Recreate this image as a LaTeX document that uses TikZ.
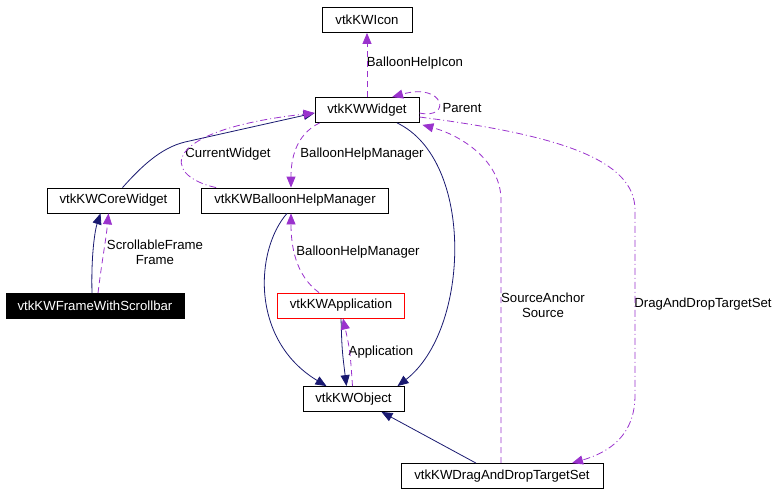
\documentclass[tikz,border=0pt]{standalone}
\usepackage{fontspec}
\setmainfont{Liberation Sans}
\usetikzlibrary{arrows.meta,calc}
\definecolor{navyedge}{HTML}{191970}
\definecolor{usecol}{HTML}{9A32CD}
\tikzset{
  cls/.style={draw=black, line width=0.8pt, minimum height=25pt, inner sep=0pt, font=\fontsize{13.2}{15}\selectfont, anchor=center},
  lbl/.style={inner sep=0pt, font=\fontsize{13.2}{15}\selectfont, align=center},
  inherit/.style={draw=navyedge, line width=0.8pt, -{Triangle[length=11pt,width=9pt]}},
  uses/.style={draw=usecol, line width=0.8pt, dash pattern=on 6pt off 4pt, -{Triangle[length=11pt,width=9pt]}},
  usesdd/.style={draw=usecol, line width=0.8pt, dash pattern=on 7pt off 3pt on 1pt off 3pt, -{Triangle[length=11pt,width=9pt]}},
}
\begin{document}
\begin{tikzpicture}[x=1pt,y=-1pt]
\useasboundingbox (0,0) rectangle (780,493);
% nodes
\node[cls, minimum width=90pt] (icon) at (367,20) {vtkKWIcon};
\node[cls, minimum width=104pt] (w) at (367,110) {vtkKWWidget};
\node[cls, minimum width=132pt] (core) at (113.5,200.5) {vtkKWCoreWidget};
\node[cls, minimum width=187pt] (bhm) at (295,200.5) {vtkKWBalloonHelpManager};
\node[cls, minimum width=178pt, fill=black, text=white] (frame) at (95,306) {vtkKWFrameWithScrollbar};
\node[cls, minimum width=127pt, draw=red] (app) at (341,305.5) {vtkKWApplication};
\node[cls, minimum width=101pt] (obj) at (353.5,399) {vtkKWObject};
\node[cls, minimum width=202pt] (dnd) at (502,476) {vtkKWDragAndDropTargetSet};
% labels
\node[lbl] (l1) at (415,63) {BalloonHelpIcon};
\node[lbl] (l2) at (462,108) {Parent};
\node[lbl] (l3) at (228,154) {CurrentWidget};
\node[lbl] (l4) at (362,154) {BalloonHelpManager};
\node[lbl] (l5) at (155,252) {ScrollableFrame\\Frame};
\node[lbl] (l6) at (358,252) {BalloonHelpManager};
\node[lbl] (l7) at (381,352) {Application};
\node[lbl] (l8) at (543,305) {SourceAnchor\\Source};
\node[lbl] (l9) at (703,304) {DragAndDropTargetSet};
% edges
\draw[uses] (w.north) -- (icon.south);
\draw[uses] ($(w.east)+(0,3)$) .. controls (452,120) and (445,82) .. ($(w.north)+(25,0)$);
\draw[inherit] ($(core.north)+(9,0)$) .. controls (140,168) and (160,148) .. (185,142) -- ($(w.west)+(0,3)$);
\draw[usesdd] ($(bhm.north west)+(15,0)$) .. controls (160,175) and (160,130) .. ($(w.west)+(0,3)$);
\draw[uses] ($(w.south west)+(5,0)$) .. controls (295,135) and (291,160) .. ($(bhm.north)+(-4,0)$);
\draw[inherit] ($(frame.north)+(-3,0)$) .. controls (91,255) and (95,230) .. ($(core.south)+(-13,0)$);
\draw[uses] ($(frame.north)+(3,0)$) .. controls (102,260) and (106,240) .. ($(core.south)+(-5,0)$);
\draw[inherit] ($(bhm.south)+(-8,0)$) .. controls (255,250) and (250,340) .. ($(obj.north)+(-27,0)$);
\draw[uses] ($(app.north)+(-22,0)$) .. controls (295,275) and (291,245) .. ($(bhm.south)+(-4,0)$);
\draw[inherit] (app.south) .. controls (342,350) .. ($(obj.north)+(-7,0)$);
\draw[uses] ($(obj.north)+(-1,0)$) .. controls (350,350) .. ($(app.south)+(2,0)$);
\draw[inherit] ($(w.south)+(30,0)$) .. controls (475,160) and (470,330) .. ($(obj.north)+(44,0)$);
\draw[inherit] ($(dnd.north)+(-26,0)$) -- ($(obj.south)+(28,0)$);
\draw[uses] ($(dnd.north)+(-1,0)$) -- (501,200) .. controls (501,160) and (460,135) .. ($(w.south east)+(3,2)$);
\draw[usesdd] ($(w.east)+(0,7)$) .. controls (560,135) and (635,160) .. (635,210) -- (635,395) .. controls (635,435) and (610,452) .. ($(dnd.north)+(70,0)$);
\end{tikzpicture}
\end{document}
